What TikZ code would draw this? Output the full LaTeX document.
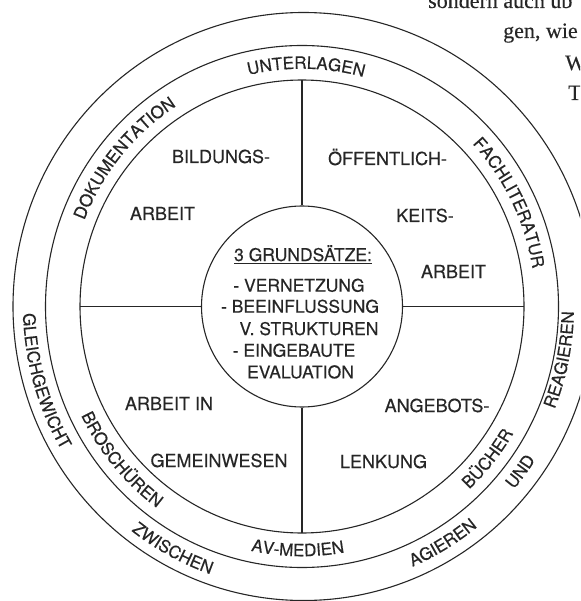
\documentclass[tikz,border=0pt]{standalone}
\usepackage{fontspec}
\setmainfont{TeX Gyre Heros}[FakeBold=0.35]
\newfontfamily\pagefont{Liberation Serif}[FakeBold=0.2]
\usetikzlibrary{decorations.text,calc}
\definecolor{ink}{RGB}{38,38,38}
\newcommand\ringfont{\fontsize{17}{20}\selectfont\color{ink}}
\newcommand\ringcw[4]{\path[decorate,decoration={text along path,text align=center,text={|\ringfont|#4}}]
  ($(C)+({#1+40}:{#2} and {#3})$) arc[start angle={#1+40},end angle={#1-40},x radius={#2},y radius={#3}];}
\newcommand\ringccw[4]{\path[decorate,decoration={text along path,text align=center,text={|\ringfont|#4}}]
  ($(C)+({#1-40}:{#2} and {#3})$) arc[start angle={#1-40},end angle={#1+40},x radius={#2},y radius={#3}];}
\tikzset{
  ring/.style={draw=ink,line width=1.1pt},
  quadtxt/.style={anchor=base,inner sep=0pt,text=ink,font=\fontsize{18}{21}\selectfont},
  coretxt/.style={anchor=base,inner sep=0pt,text=ink,font=\fontsize{17.5}{21}\selectfont},
  pagetxt/.style={anchor=base west,inner sep=0pt,text=ink,font=\pagefont\fontsize{22}{26}\selectfont}
}
\begin{document}
\begin{tikzpicture}[x=1pt,y=1pt]
\path[use as bounding box] (0,0) rectangle (580,-601);
\clip (0,0) rectangle (580,-601);
\fill[white] (0,0) rectangle (580,-601);
\coordinate (C) at (302,-306.5);
\coordinate (Co) at (303.5,-306.5);
% rings
\draw[ring] (Co) ellipse [x radius=290.5, y radius=294];
\draw[ring] (C) ellipse [x radius=256.5, y radius=261];
\draw[ring] (C) ellipse [x radius=222, y radius=226.5];
\node[ring,circle,minimum size=201pt,inner sep=0pt] (core) at (C) {};
% dividers
\coordinate (qn) at ($(C)+(0,226.5)$);
\coordinate (qs) at ($(C)+(0,-226.5)$);
\coordinate (qw) at ($(C)+(-222,0)$);
\coordinate (qe) at ($(C)+(222,0)$);
\draw[ring] (core.north) -- (qn);
\draw[ring] (core.south) -- (qs);
\draw[ring] (core.west) -- (qw);
\draw[ring] (core.east) -- (qe);
% core text
\node[coretxt] (g1) at (303,-261) {\underline{3 GRUNDSÄTZE:}};
\node[coretxt] (g2) at (299,-291.7) {- VERNETZUNG};
\node[coretxt] (g3) at (300,-312.7) {- BEEINFLUSSUNG};
\node[coretxt] (g4) at (309,-335) {V. STRUKTUREN};
\node[coretxt] (g5) at (294,-356.7) {- EINGEBAUTE};
\node[coretxt] (g6) at (300.5,-378.3) {EVALUATION};
% quadrant text
\node[quadtxt] (b1) at (221,-163) {BILDUNGS-};
\node[quadtxt] (b2) at (162.5,-220) {ARBEIT};
\node[quadtxt] (o1) at (387.5,-165) {ÖFFENTLICH-};
\node[quadtxt] (o2) at (425,-222) {KEITS-};
\node[quadtxt] (o3) at (453.5,-278) {ARBEIT};
\node[quadtxt] (a1) at (169,-410) {ARBEIT IN};
\node[quadtxt] (a2) at (219,-467) {GEMEINWESEN};
\node[quadtxt] (l1) at (437,-412) {ANGEBOTS-};
\node[quadtxt] (l2) at (383.5,-468) {LENKUNG};
% inner band
\ringcw{89}{233.5}{237.75}{UNTERLAGEN}
\ringcw{140.5}{233.5}{237.75}{DOKUMENTATION}
\ringcw{26.3}{233.5}{237.75}{FACHLITERATUR}
\ringccw{-39}{245.5}{249.75}{BÜCHER}
\ringccw{-91}{245.5}{249.75}{AV-MEDIEN}
\ringccw{220}{245.5}{249.75}{BROSCHÜREN}
% outer band
\ringccw{196}{279}{283.5}{GLEICHGEWICHT}
\ringccw{241.7}{279}{283.5}{ZWISCHEN}
\ringccw{301}{279}{283.5}{AGIEREN}
\ringccw{323.2}{278}{282.5}{UND}
\ringccw{348.5}{272}{276.5}{REAGIEREN}
% page text
\node[pagetxt] (p1) at (428,-8) {sondern auch üb};
\node[pagetxt] (p2) at (503,-38) {gen, wie};
\node[pagetxt] (p3) at (565,-70) {W};
\node[pagetxt] (p4) at (568,-100) {T};
\end{tikzpicture}
\end{document}
